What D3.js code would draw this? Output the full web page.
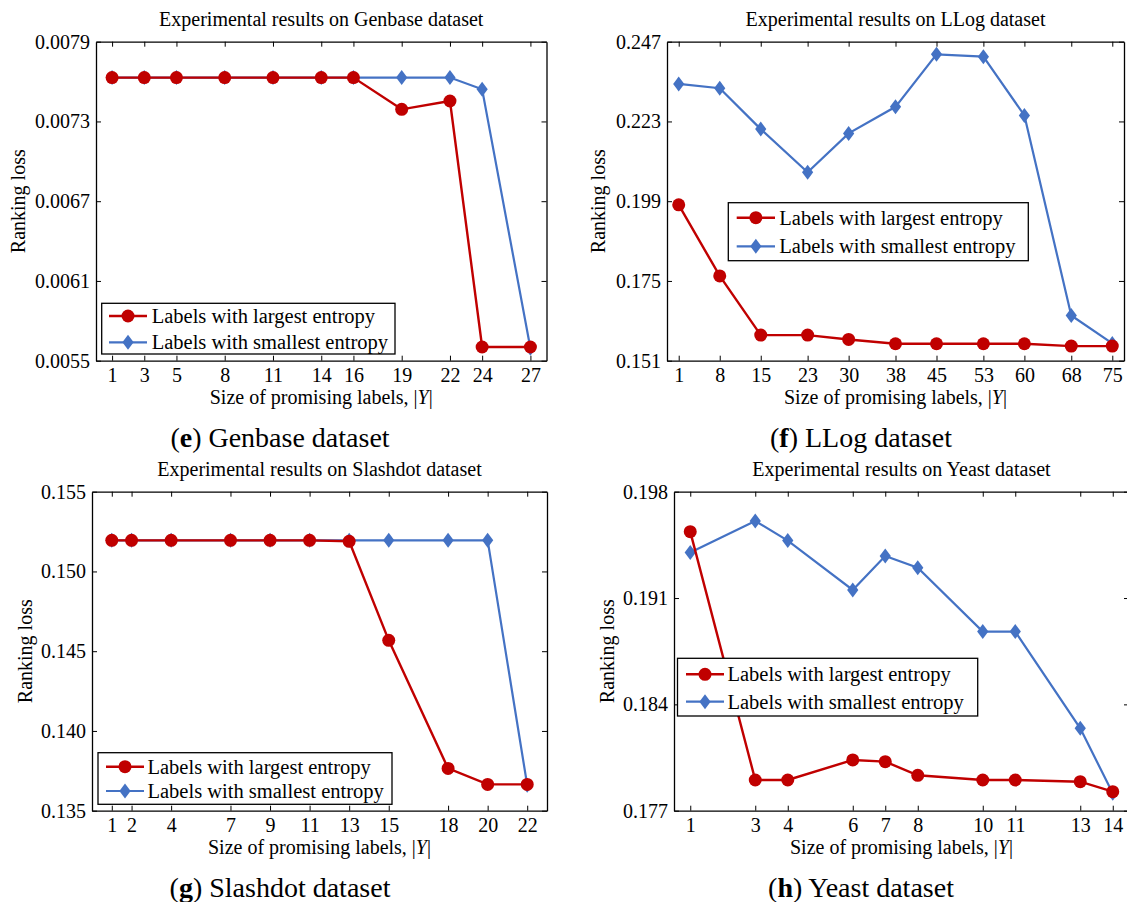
<!DOCTYPE html>
<html>
<head>
<meta charset="utf-8">
<script src="https://cdn.jsdelivr.net/npm/d3@7"></script>
<style>
  body { margin: 0; background: #fff; }
  svg { display: block; font-family: "Liberation Serif", "Times New Roman", serif; }
</style>
</head>
<body>
<svg id="chart"></svg>
<script>
const width = 1127, height = 902;

// Genbase
const genbaseX = [1, 3, 5, 8, 11, 14, 16, 19, 22, 24, 27];
const genbaseLargest = [0.00763, 0.00763, 0.00763, 0.00763, 0.00763, 0.00763, 0.00763, 0.007391, 0.007454, 0.005603, 0.005603];
const genbaseSmallest = [0.00763, 0.00763, 0.00763, 0.00763, 0.00763, 0.00763, 0.00763, 0.00763, 0.00763, 0.007542, 0.005594];
const genbaseYTicks = [0.0055, 0.0061, 0.0067, 0.0073, 0.0079];

// LLog
const llogX = [1, 8, 15, 23, 30, 38, 45, 53, 60, 68, 75];
const llogLargest = [0.1979, 0.1765, 0.1587, 0.1587, 0.1574, 0.1561, 0.1561, 0.1561, 0.1561, 0.1554, 0.1554];
const llogSmallest = [0.2343, 0.2330, 0.2207, 0.2077, 0.2194, 0.2274, 0.2432, 0.2425, 0.2248, 0.1646, 0.1562];
const llogYTicks = [0.151, 0.175, 0.199, 0.223, 0.247];

// Slashdot
const slashdotX = [1, 2, 4, 7, 9, 11, 13, 15, 18, 20, 22];
const slashdotLargest = [0.15195, 0.15195, 0.15195, 0.15195, 0.15195, 0.15195, 0.15189, 0.14568, 0.13765, 0.13665, 0.13665];
const slashdotSmallest = [0.15195, 0.15195, 0.15195, 0.15195, 0.15195, 0.15195, 0.15195, 0.15195, 0.15195, 0.15195, 0.13660];
const slashdotYTicks = [0.135, 0.140, 0.145, 0.150, 0.155];

// Yeast
const yeastX = [1, 3, 4, 6, 7, 8, 10, 11, 13, 14];
const yeastLargest = [0.19537, 0.17902, 0.17902, 0.18034, 0.18023, 0.17933, 0.17902, 0.17902, 0.17891, 0.17825];
const yeastSmallest = [0.19399, 0.19607, 0.19478, 0.19153, 0.19377, 0.19300, 0.18879, 0.18879, 0.18242, 0.17815];
const yeastYTicks = [0.177, 0.184, 0.191, 0.198];

const legendNames = ["Labels with largest entropy", "Labels with smallest entropy"];
const red = "#c00000", blue = "#4472c4";

const panels = [
  { name: "Genbase", letter: "e", x: genbaseX, largest: genbaseLargest, smallest: genbaseSmallest,
    yTicks: genbaseYTicks, fmt: d3.format(".4f"), xDomain: [0, 28],
    frame: { l: 96, t: 41.7, r: 546.5, b: 360.7 }, yLabelX: 25, captionX: 280, captionY: 447,
    legend: { x0: 101.7, y0: 303.3, x1: 395, y1: 354, rows: [316, 342.3], lx: [109, 147], tx: 151.7 } },
  { name: "LLog", letter: "f", x: llogX, largest: llogLargest, smallest: llogSmallest,
    yTicks: llogYTicks, fmt: d3.format(".3f"), xDomain: [-1, 77],
    frame: { l: 667, t: 41.7, r: 1124, b: 360.7 }, yLabelX: 605, captionX: 861, captionY: 447,
    legend: { x0: 728.3, y0: 202.7, x1: 1028.3, y1: 260.7, rows: [217.7, 246.3], lx: [736.7, 775], tx: 779.3 } },
  { name: "Slashdot", letter: "g", x: slashdotX, largest: slashdotLargest, smallest: slashdotSmallest,
    yTicks: slashdotYTicks, fmt: d3.format(".3f"), xDomain: [0, 23],
    frame: { l: 92, t: 491.7, r: 547, b: 810.7 }, yLabelX: 32, captionX: 280, captionY: 897,
    legend: { x0: 98, y0: 752.7, x1: 392, y1: 804.3, rows: [766.7, 791], lx: [106, 144], tx: 147.5 } },
  { name: "Yeast", letter: "h", x: yeastX, largest: yeastLargest, smallest: yeastSmallest,
    yTicks: yeastYTicks, fmt: d3.format(".3f"), xDomain: [0.5, 14.5],
    frame: { l: 674, t: 491.7, r: 1129, b: 810.7 }, yLabelX: 614, captionX: 861, captionY: 897,
    legend: { x0: 677.5, y0: 658.3, x1: 977.7, y1: 716, rows: [674.3, 701.7], lx: [686, 724], tx: 727.5 } }
];

const svg = d3.select("#chart").attr("width", width).attr("height", height);
svg.append("rect").attr("width", width).attr("height", height).attr("fill", "#fff");

const diamond = (cx, cy) => `M${cx},${cy - 7.5}L${cx + 5.6},${cy}L${cx},${cy + 7.5}L${cx - 5.6},${cy}Z`;

function drawPanel(p) {
  const f = p.frame;
  const x = d3.scaleLinear().domain(p.xDomain).range([f.l, f.r]);
  const y = d3.scaleLinear().domain([p.yTicks[0], p.yTicks[p.yTicks.length - 1]]).range([f.b, f.t]);
  const g = svg.append("g");

  // axes, ticks pointing inward on all four sides
  const styleAxis = sel => {
    sel.selectAll("path.domain").attr("stroke", "#000").attr("stroke-width", 1.3);
    sel.selectAll(".tick line").attr("stroke", "#000").attr("stroke-width", 1);
    sel.selectAll("text").attr("font-family", "Liberation Serif, serif").attr("font-size", 20).attr("fill", "#000");
  };
  g.append("g").attr("transform", `translate(0,${f.b})`)
    .call(d3.axisBottom(x).tickValues(p.x).tickFormat(d3.format("d")).tickSizeInner(-5).tickSizeOuter(0).tickPadding(7.5))
    .call(styleAxis);
  g.append("g").attr("transform", `translate(0,${f.t})`)
    .call(d3.axisTop(x).tickValues(p.x).tickFormat("").tickSizeInner(-5).tickSizeOuter(0))
    .call(styleAxis);
  g.append("g").attr("transform", `translate(${f.l},0)`)
    .call(d3.axisLeft(y).tickValues(p.yTicks).tickFormat(p.fmt).tickSizeInner(-5).tickSizeOuter(0).tickPadding(6))
    .call(styleAxis);
  g.append("g").attr("transform", `translate(${f.r},0)`)
    .call(d3.axisRight(y).tickValues(p.yTicks).tickFormat("").tickSizeInner(-5).tickSizeOuter(0))
    .call(styleAxis);

  // title, axis labels, caption
  g.append("text").attr("x", (f.l + f.r) / 2).attr("y", f.t - 15.7)
    .attr("text-anchor", "middle").attr("font-size", 20)
    .text(`Experimental results on ${p.name} dataset`);
  const xl = g.append("text").attr("x", (f.l + f.r) / 2).attr("y", f.b + 43.5)
    .attr("text-anchor", "middle").attr("font-size", 20);
  xl.append("tspan").text("Size of promising labels, |");
  xl.append("tspan").attr("font-style", "italic").text("Y");
  xl.append("tspan").text("|");
  g.append("text").attr("transform", `translate(${p.yLabelX},${(f.t + f.b) / 2}) rotate(-90)`)
    .attr("text-anchor", "middle").attr("font-size", 20).text("Ranking loss");
  const cap = g.append("text").attr("x", p.captionX).attr("y", p.captionY)
    .attr("text-anchor", "middle").attr("font-size", 28);
  cap.append("tspan").text("(");
  cap.append("tspan").attr("font-weight", "bold").text(p.letter);
  cap.append("tspan").text(") " + p.name + " dataset");

  // series: smallest entropy (blue) first, largest entropy (red) on top
  const pts = vals => p.x.map((d, i) => [d, vals[i]]);
  const line = d3.line().x(d => x(d[0])).y(d => y(d[1]));

  g.append("path").datum(pts(p.smallest)).attr("d", line)
    .attr("fill", "none").attr("stroke", blue).attr("stroke-width", 2.2);
  g.selectAll(".dia").data(pts(p.smallest)).join("path").attr("class", "dia")
    .attr("d", d => diamond(x(d[0]), y(d[1]))).attr("fill", blue);

  g.append("path").datum(pts(p.largest)).attr("d", line)
    .attr("fill", "none").attr("stroke", red).attr("stroke-width", 2.4);
  g.selectAll(".dot").data(pts(p.largest)).join("circle").attr("class", "dot")
    .attr("cx", d => x(d[0])).attr("cy", d => y(d[1])).attr("r", 6.5).attr("fill", red);

  // legend
  const L = p.legend;
  const lg = g.append("g");
  lg.append("rect").attr("x", L.x0).attr("y", L.y0).attr("width", L.x1 - L.x0).attr("height", L.y1 - L.y0)
    .attr("fill", "#fff").attr("stroke", "#000").attr("stroke-width", 1.3);
  const mid = (L.lx[0] + L.lx[1]) / 2;
  lg.append("line").attr("x1", L.lx[0]).attr("x2", L.lx[1]).attr("y1", L.rows[0]).attr("y2", L.rows[0])
    .attr("stroke", red).attr("stroke-width", 2.4);
  lg.append("circle").attr("cx", mid).attr("cy", L.rows[0]).attr("r", 6.5).attr("fill", red);
  lg.append("line").attr("x1", L.lx[0]).attr("x2", L.lx[1]).attr("y1", L.rows[1]).attr("y2", L.rows[1])
    .attr("stroke", blue).attr("stroke-width", 2.2);
  lg.append("path").attr("d", diamond(mid, L.rows[1])).attr("fill", blue);
  lg.selectAll(".lt").data(legendNames).join("text").attr("class", "lt")
    .attr("x", L.tx).attr("y", (d, i) => L.rows[i] + 7).attr("font-size", 20.5).text(d => d);
}

panels.forEach(drawPanel);
</script>
</body>
</html>
